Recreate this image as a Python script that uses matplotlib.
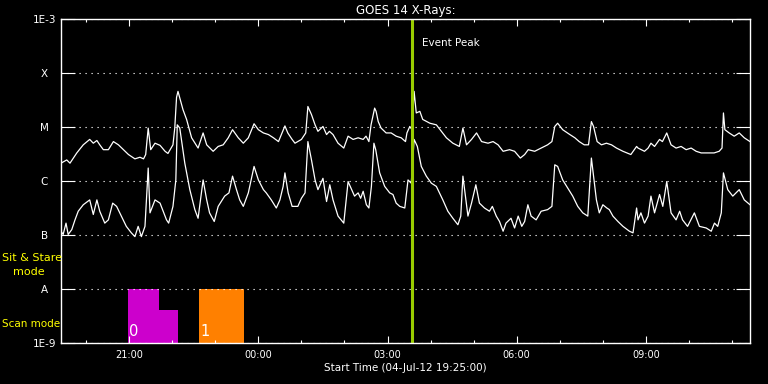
import numpy as np
import pandas as pd
import matplotlib
matplotlib.use("Agg")
import matplotlib.pyplot as plt
import matplotlib.dates as mdates

start = pd.Timestamp("2012-07-04 19:25:00")
end = pd.Timestamp("2012-07-05 11:25:00")
event_peak = pd.Timestamp("2012-07-05 03:34:00")

# GOES 14 long channel (1-8 A): minutes after start, log10 flux (W/m^2)
long_minutes = [
    0, 8, 12.5, 22, 31, 40, 45, 50, 54, 59, 66, 73, 80, 87, 94, 103, 110, 115, 118, 121.5,
    125, 131, 138, 145, 149, 156, 158.5, 161, 163, 170, 175, 182, 191, 198, 203, 212, 219, 226, 233, 239,
    247, 254, 261, 269, 275, 282, 289, 296, 303, 307, 312, 316, 322, 326, 335, 341, 344, 349, 354, 358,
    365, 370, 374, 379, 386, 394, 400, 407, 414, 421, 425, 429, 432, 437, 439, 442, 446, 453, 460, 467,
    474, 480, 482, 486, 489, 492, 495, 500, 504, 514, 523, 530, 537, 546, 555, 560, 565, 572, 579, 586,
    595, 602, 609, 616, 625, 632, 640, 646, 651, 660, 669, 678, 684, 688, 692, 699, 709, 716, 722, 729,
    735, 739, 742, 747, 753, 760, 767, 774, 783, 794, 802, 804, 813, 818, 822, 827, 834, 838, 844, 850,
    857, 864, 871, 878, 885, 892, 901, 910, 917, 921, 923, 925, 931, 938, 945, 952, 960]
long_log_flux = [
    -5.67, -5.61, -5.67, -5.48, -5.33, -5.23, -5.30, -5.25, -5.33, -5.42, -5.42, -5.27, -5.33, -5.42, -5.51, -5.59, -5.56, -5.59, -5.51, -5.02,
    -5.42, -5.30, -5.34, -5.45, -5.49, -5.33, -5.02, -4.45, -4.34, -4.68, -4.86, -5.20, -5.39, -5.11, -5.33, -5.45, -5.36, -5.33, -5.20, -5.05,
    -5.20, -5.30, -5.20, -4.94, -5.05, -5.11, -5.14, -5.20, -5.27, -5.14, -4.98, -5.11, -5.23, -5.30, -5.23, -5.11, -4.62, -4.77, -4.96, -5.08,
    -4.99, -5.14, -5.08, -5.14, -5.30, -5.39, -5.17, -5.23, -5.20, -5.23, -5.17, -5.27, -4.96, -4.65, -4.71, -4.90, -5.02, -5.11, -5.11, -5.17,
    -5.20, -5.27, -5.11, -4.99, -5.05, -4.34, -4.74, -4.71, -4.86, -4.93, -4.96, -5.08, -5.20, -5.30, -5.36, -5.02, -5.33, -5.23, -5.11, -5.27,
    -5.30, -5.27, -5.33, -5.45, -5.42, -5.45, -5.575, -5.51, -5.42, -5.45, -5.39, -5.33, -5.27, -4.99, -4.93, -5.05, -5.14, -5.20, -5.27, -5.33,
    -5.33, -4.90, -4.99, -5.27, -5.33, -5.30, -5.33, -5.39, -5.45, -5.51, -5.36, -5.39, -5.45, -5.39, -5.30, -5.36, -5.23, -5.27, -5.11, -5.33,
    -5.39, -5.36, -5.42, -5.39, -5.45, -5.48, -5.48, -5.48, -5.45, -5.39, -4.74, -5.05, -5.11, -5.17, -5.11, -5.20, -5.27]

# GOES 14 short channel (0.5-4 A)
short_minutes = [
    0, 3, 7, 10, 15, 19.5, 24, 31, 40, 45, 50, 54, 61, 66, 72, 77.5, 84, 91, 98, 103,
    107.5, 112, 117, 120, 121.5, 124, 131, 138, 147, 150, 156, 160, 162, 165.5, 172.5, 179.5, 186.5, 191, 198, 203,
    207, 213.5, 219, 228, 234, 239, 244.5, 249, 254, 261, 269, 275, 282, 286, 293, 300, 305, 309.5, 312, 316.5,
    322, 330, 335, 340, 344, 349, 354, 358, 365, 370, 374.5, 379, 386, 394, 400, 405, 409, 414, 417.5, 421,
    425.5, 429, 432.5, 436, 438.5, 444, 451, 458, 462.5, 467, 472, 479, 483.5, 488, 492, 496.5, 502, 509, 516, 523,
    532, 539, 546, 553, 557, 560, 567, 572, 578, 583, 590, 597, 601, 606.5, 611, 616, 620, 627, 632, 637,
    642, 646, 650.5, 655, 662, 669, 678, 684, 688, 692, 699, 706, 713, 720, 727, 734, 739, 746, 750, 755,
    760.5, 764, 769, 776, 783, 792, 797, 802, 804, 808, 813, 818, 822, 827, 834, 838.5, 844, 850, 857, 862,
    866, 873, 882.5, 889.5, 899, 906, 910.5, 915, 920, 923, 929, 936, 945, 952, 960]
short_log_flux = [
    -6.93, -6.99, -6.78, -6.99, -6.90, -6.72, -6.56, -6.44, -6.35, -6.62, -6.35, -6.56, -6.78, -6.72, -6.41, -6.47, -6.65, -6.84, -6.96, -7.03,
    -6.84, -7.03, -6.84, -6.10, -5.76, -6.59, -6.35, -6.41, -6.72, -6.78, -6.47, -5.98, -4.96, -5.02, -5.67, -6.16, -6.53, -6.69, -5.98, -6.35,
    -6.59, -6.75, -6.47, -6.28, -6.22, -5.91, -6.16, -6.35, -6.47, -6.22, -5.73, -5.98, -6.16, -6.22, -6.35, -6.50, -6.35, -6.10, -5.85, -6.22,
    -6.47, -6.47, -6.32, -6.22, -5.27, -5.61, -5.98, -6.16, -5.95, -6.38, -6.07, -6.35, -6.65, -6.78, -6.01, -6.16, -6.28, -6.22, -6.32, -6.19,
    -6.44, -6.50, -6.10, -5.30, -5.42, -5.85, -6.10, -6.22, -6.25, -6.41, -6.47, -6.50, -5.98, -6.04, -5.23, -5.36, -5.73, -5.91, -6.04, -6.10,
    -6.35, -6.56, -6.69, -6.81, -6.65, -5.91, -6.65, -6.41, -6.07, -6.41, -6.50, -6.56, -6.47, -6.65, -6.75, -6.93, -6.78, -6.69, -6.87, -6.65,
    -6.84, -6.75, -6.44, -6.65, -6.72, -6.56, -6.53, -6.47, -5.70, -5.73, -5.98, -6.13, -6.28, -6.47, -6.59, -6.65, -5.575, -6.35, -6.59, -6.44,
    -6.50, -6.53, -6.65, -6.75, -6.84, -6.93, -6.96, -6.50, -6.72, -6.59, -6.78, -6.65, -6.28, -6.59, -6.25, -6.47, -6.01, -6.59, -6.72, -6.56,
    -6.72, -6.84, -6.59, -6.84, -6.87, -6.93, -6.78, -6.84, -6.59, -5.85, -6.16, -6.28, -6.16, -6.35, -6.44]

# observing mode blocks
scan_start = ["2012-07-04 20:58", "2012-07-04 21:42", "2012-07-04 22:37"]
scan_end = ["2012-07-04 21:42", "2012-07-04 22:08", "2012-07-04 23:40"]
scan_top = [1e-8, 4e-9, 1e-8]
scan_color = ["#cc00cc", "#cc00cc", "#ff8000"]
scan_label = ["0", "", "1"]

yticks = [1e-9, 1e-8, 1e-7, 1e-6, 1e-5, 1e-4, 1e-3]
ylabels = ["1E-9", "A", "B", "C", "M", "X", "1E-3"]

long_t = start + pd.to_timedelta(long_minutes, unit="m")
short_t = start + pd.to_timedelta(short_minutes, unit="m")
long_flux = 10 ** np.array(long_log_flux)
short_flux = 10 ** np.array(short_log_flux)

fig = plt.figure(figsize=(7.68, 3.84), dpi=100, facecolor="black")
ax = fig.add_axes([61 / 768, 41 / 384, 689 / 768, 324 / 384], facecolor="black")

ax.set_yscale("log")
ax.set_ylim(1e-9, 1e-3)
ax.set_xlim(start, end)

# scan mode blocks
for s, e, top, c, lab in zip(scan_start, scan_end, scan_top, scan_color, scan_label):
    x0 = mdates.date2num(pd.Timestamp(s))
    x1 = mdates.date2num(pd.Timestamp(e))
    ax.bar(x0, top - 1e-9, width=x1 - x0, bottom=1e-9, align="edge", color=c, linewidth=0)
    if lab:
        ax.annotate(lab, xy=(x0, 1e-9), xytext=(1, 3), textcoords="offset points",
                    color="white", fontsize=10.5, ha="left", va="bottom")

ax.plot(long_t, long_flux, color="white", lw=0.9)
ax.plot(short_t, short_flux, color="white", lw=0.9)

ax.axvline(event_peak, color="#99cc00", lw=2.2)
ax.annotate("Event Peak", xy=(mdates.date2num(event_peak), 1), xycoords=("data", "axes fraction"),
            xytext=(7.5, -17), textcoords="offset points", color="white", fontsize=7.5,
            ha="left", va="center")

# y axis
ax.set_yticks(yticks)
ax.set_yticklabels(ylabels)
ax.yaxis.set_minor_locator(matplotlib.ticker.NullLocator())
ax.tick_params(axis="y", which="major", direction="in", length=10, width=0.8,
               left=True, right=True, colors="white", labelsize=7.5, pad=12)
for lab in ax.get_yticklabels():
    lab.set_horizontalalignment("center")
ax.grid(axis="y", which="major", color="white", lw=0.8, linestyle=(0, (1.1, 4.3)))

# x axis
ax.xaxis.set_major_locator(mdates.HourLocator(byhour=range(0, 24, 3)))
ax.xaxis.set_minor_locator(mdates.HourLocator())
ax.xaxis.set_major_formatter(mdates.DateFormatter("%H:%M"))
ax.tick_params(axis="x", which="major", direction="in", length=5, width=0.8,
               top=True, bottom=True, colors="white", labelsize=7, pad=5)
ax.tick_params(axis="x", which="minor", direction="in", length=2.5, width=0.8,
               top=True, bottom=True, colors="white")

for sp in ax.spines.values():
    sp.set_color("white")
    sp.set_linewidth(1.0)

ax.set_title("GOES 14 X-Rays:", color="white", fontsize=8.5, pad=3.5)
ax.set_xlabel("Start Time (04-Jul-12 19:25:00)", color="white", fontsize=7.5, va="center")
ax.xaxis.set_label_coords(0.5, -25 / 324)

fig.text(2 / 768, 1 - 258 / 384, "Sit & Stare", color="yellow", fontsize=8, ha="left", va="center")
fig.text(13 / 768, 1 - 272 / 384, "mode", color="yellow", fontsize=8, ha="left", va="center")
fig.text(2 / 768, 1 - 324 / 384, "Scan mode", color="yellow", fontsize=7.5, ha="left", va="center")

fig.savefig("out.png", dpi=100, facecolor="black")
